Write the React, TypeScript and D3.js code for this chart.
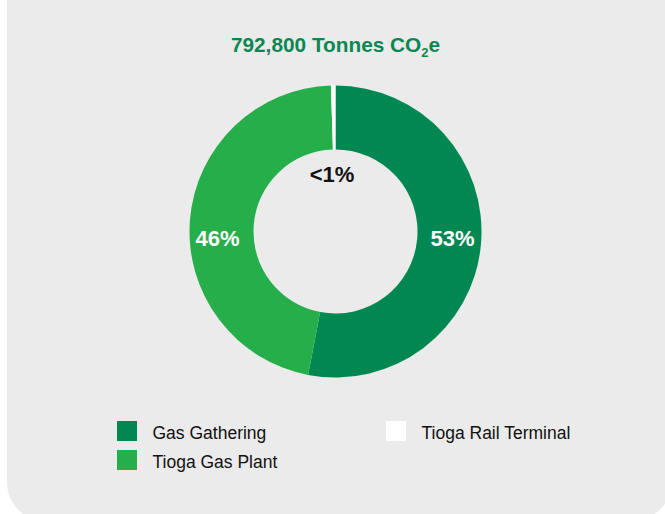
import React from 'react';
import * as d3 from 'd3';

const categories = ['Gas Gathering', 'Tioga Gas Plant', 'Tioga Rail Terminal'];
const shares = [53, 46.5, 0.5];
const shareLabels = ['53%', '46%', '<1%'];
const colors = ['#008752', '#25AE4A', '#FFFFFF'];
const labelColors = ['#ffffff', '#ffffff', '#111111'];
const totalTonnes = '792,800';

const W = 665;
const H = 514;
const cx = 335.5;
const cy = 231.5;
const outerR = 146;
const innerR = 82;
const FONT = 'Arial, "Liberation Sans", Helvetica, sans-serif';

export default function App() {
  const pie = d3.pie<number>().sort(null).value(d => d);
  const arcs = pie(shares);
  const arcFn = d3.arc<d3.PieArcDatum<number>>().innerRadius(innerR).outerRadius(outerR);
  const labelR = (innerR + outerR) / 2 + 3;

  // legend laid out in two columns, filled top-down
  const legendX = d3.scalePoint<number>().domain([0, 1]).range([117, 386]);
  const legendY = d3.scalePoint<number>().domain([0, 1]).range([421, 450]);

  return (
    <svg width={W} height={H} style={{ position: 'absolute', left: 0, top: 0 }} fontFamily={FONT}>
      <rect x={0} y={0} width={W} height={H} fill="#ffffff" />
      <rect x={7} y={-60} width={664} height={581} rx={38} ry={38} fill="#EBEBEB" />

      <text x={cx} y={52} textAnchor="middle" fill="#0A8752" fontWeight="bold" fontSize={20.8}>
        {totalTonnes} Tonnes CO<tspan fontSize={13} dy={5}>2</tspan><tspan dy={-5}>e</tspan>
      </text>

      <g transform={`translate(${cx},${cy})`}>
        {arcs.map((a, i) => (
          <path key={i} d={arcFn(a) || ''} fill={colors[i]} />
        ))}
        {arcs.map((a, i) => {
          const mid = (a.startAngle + a.endAngle) / 2;
          // small slice label sits inside the hole, the others straddle the ring horizontally
          const small = a.endAngle - a.startAngle < 0.2;
          const x = small ? -3.5 : labelR * Math.sin(mid) >= 0 ? labelR : -labelR - 1;
          const y = small ? -innerR + 32 : 14;
          return (
            <text key={'l' + i} x={x} y={y} textAnchor="middle" fill={labelColors[i]}
              fontWeight="bold" fontSize={22}>
              {shareLabels[i]}
            </text>
          );
        })}
      </g>

      {categories.map((c, i) => {
        const col = i < 2 ? 0 : 1;
        const row = i < 2 ? i : 0;
        const x = legendX(col)!;
        const y = legendY(row)!;
        return (
          <g key={c} transform={`translate(${x},${y})`}>
            <rect width={20} height={20} fill={colors[i]} />
            <text x={35.5} y={17.5} fontSize={17.5} fill="#111111">{c}</text>
          </g>
        );
      })}
    </svg>
  );
}
